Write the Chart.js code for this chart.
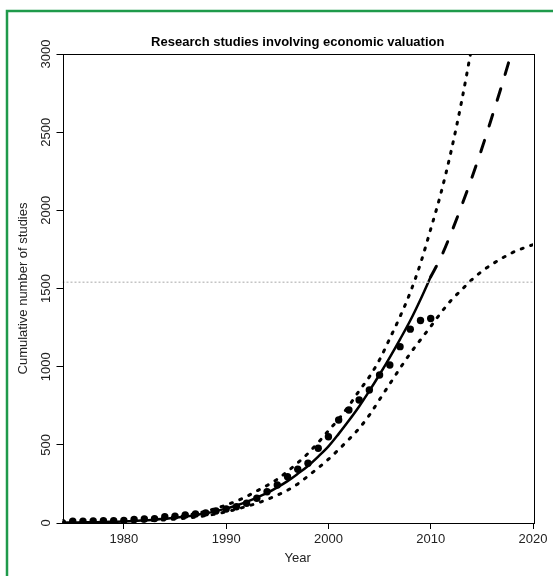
<!DOCTYPE html>
<html><head><meta charset="utf-8">
<script src="https://cdn.jsdelivr.net/npm/chart.js@4.4.0/dist/chart.umd.min.js"></script>
<style>html,body{margin:0;padding:0;background:#fff;}canvas{display:block;}</style>
</head><body>
<canvas id="c" width="553" height="576"></canvas>
<script>
const chartTitle = 'Research studies involving economic valuation';
const xTitle = 'Year';
const yTitle = 'Cumulative number of studies';
const xTickLabels = [1980, 1990, 2000, 2010, 2020];
const yTickLabels = [0, 500, 1000, 1500, 2000, 2500, 3000];
const xMin = 1974, xMax = 2020, yMin = 0, yMax = 3000;
const refLevel = 1540;

// observed cumulative studies
const obsYears = [1974,1975,1976,1977,1978,1979,1980,1981,1982,1983,1984,1985,1986,1987,1988,1989,1990,1991,1992,1993,1994,1995,1996,1997,1998,1999,2000,2001,2002,2003,2004,2005,2006,2007,2008,2009,2010];
const obsValues = [2,12,12,13,14,15,17,22,26,28,40,44,51,58,65,77,90,104,126,158,200,243,296,344,382,478,552,659,723,787,851,947,1011,1128,1240,1295,1308];

// fitted curve (solid, to 2010)
const fitYears = [1974,1975,1976,1977,1978,1979,1980,1981,1982,1983,1984,1985,1986,1987,1988,1989,1990,1991,1992,1993,1994,1995,1996,1997,1998,1999,2000,2001,2002,2003,2004,2005,2006,2007,2008,2009,2010];
const fitValues = [2,3,4,5,6,8,10,13,17,21,27,33,41,50,62,76,92,112,135,162,192,228,268,315,365,425,490,570,655,745,845,950,1060,1175,1295,1430,1575];

// projection (dashed, 2010 onward)
const projYears = [2010,2011,2012,2013,2014,2015,2016,2017,2018];
const projValues = [1575,1700,1855,2025,2205,2395,2600,2810,3030];

// upper bound (dotted)
const upperYears = [1974,1975,1976,1977,1978,1979,1980,1981,1982,1983,1984,1985,1986,1987,1988,1989,1990,1991,1992,1993,1994,1995,1996,1997,1998,1999,2000,2001,2002,2003,2004,2005,2006,2007,2008,2009,2010,2011,2012,2013,2014];
const upperValues = [2,3,4,5,7,9,12,15,19,24,31,39,48,60,75,93,115,140,170,205,240,280,330,385,445,515,590,665,750,845,935,1045,1180,1320,1475,1660,1880,2110,2380,2690,3040];

// lower bound (dotted)
const lowerYears = [1974,1975,1976,1977,1978,1979,1980,1981,1982,1983,1984,1985,1986,1987,1988,1989,1990,1991,1992,1993,1994,1995,1996,1997,1998,1999,2000,2001,2002,2003,2004,2005,2006,2007,2008,2009,2010,2011,2012,2013,2014,2015,2016,2017,2018,2019,2020];
const lowerValues = [2,3,3,4,5,6,8,10,13,16,20,25,31,38,47,58,72,88,106,126,150,178,210,250,300,352,408,470,535,605,690,790,890,990,1085,1172,1257,1345,1425,1490,1555,1610,1655,1695,1730,1757,1780];

const FONT = "'Liberation Sans', Arial, sans-serif";
const pairs = (xs, ys) => xs.map((x, i) => ({x: x, y: ys[i]}));

const framePlugin = {
  id: 'frame',
  afterDraw(chart) {
    const ctx = chart.ctx, a = chart.chartArea;
    const ys = chart.scales.y;
    ctx.save();
    // plot box
    ctx.strokeStyle = '#000'; ctx.lineWidth = 1;
    ctx.strokeRect(Math.round(a.left) + 0.5, Math.round(a.top) + 0.5, Math.round(a.right - a.left), Math.round(a.bottom - a.top));
    // rotated y tick labels
    ctx.fillStyle = '#222';
    ctx.font = '13px ' + FONT;
    ctx.textAlign = 'center'; ctx.textBaseline = 'middle';
    yTickLabels.forEach(v => {
      const y = ys.getPixelForValue(v);
      ctx.save(); ctx.translate(46, y); ctx.rotate(-Math.PI / 2);
      ctx.fillText(String(v), 0, 0); ctx.restore();
    });
    // axis titles
    ctx.fillStyle = '#222';
    ctx.save(); ctx.translate(23, (a.top + a.bottom) / 2); ctx.rotate(-Math.PI / 2);
    ctx.fillText(yTitle, 0, 0); ctx.restore();
    ctx.fillText(xTitle, (a.left + a.right) / 2, 558);
    // green frame
    ctx.strokeStyle = '#1f9a4b'; ctx.lineWidth = 2.5;
    ctx.strokeRect(7, 11, 700, 700);
    ctx.restore();
  }
};

new Chart(document.getElementById('c'), {
  type: 'scatter',
  data: {
    datasets: [
      {data: pairs([xMin, xMax], [refLevel, refLevel]), showLine: true, borderColor: '#c4c4c4', borderWidth: 1.5, borderDash: [2, 2], pointRadius: 0, clip: 0},
      {data: pairs(upperYears, upperValues), showLine: true, borderColor: '#000', borderWidth: 3, borderDash: [2, 8], borderCapStyle: 'round', pointRadius: 0, cubicInterpolationMode: 'monotone', clip: 0},
      {data: pairs(lowerYears, lowerValues), showLine: true, borderColor: '#000', borderWidth: 3, borderDash: [2, 8], borderCapStyle: 'round', pointRadius: 0, cubicInterpolationMode: 'monotone', clip: 0},
      {data: pairs(projYears, projValues), showLine: true, borderColor: '#000', borderWidth: 3, borderDash: [12, 15], borderCapStyle: 'round', pointRadius: 0, cubicInterpolationMode: 'monotone', clip: 0},
      {data: pairs(fitYears, fitValues), showLine: true, borderColor: '#000', borderWidth: 2.5, borderCapStyle: 'round', pointRadius: 0, cubicInterpolationMode: 'monotone', clip: 0},
      {data: pairs(obsYears, obsValues), showLine: false, pointRadius: 3.7, pointBackgroundColor: '#000', pointBorderWidth: 0, borderColor: '#000'}
    ]
  },
  options: {
    responsive: false, animation: false, devicePixelRatio: 1,
    layout: {padding: {left: 0, right: 20, top: 0, bottom: 0}},
    plugins: {
      legend: {display: false}, tooltip: {enabled: false},
      title: {display: true, text: chartTitle, fullSize: false, color: '#000',
        font: {family: FONT, size: 13, weight: 'bold'}, padding: {top: 35, bottom: 3.4}}
    },
    scales: {
      x: {type: 'linear', min: xMin, max: xMax,
        afterBuildTicks: s => { s.ticks = xTickLabels.map(v => ({value: v})); },
        afterFit: s => { s.height = 53; },
        ticks: {font: {family: FONT, size: 13}, color: '#222', padding: 3, maxRotation: 0, autoSkip: false, callback: v => String(v)},
        grid: {display: true, drawOnChartArea: false, drawTicks: true, tickLength: 6, color: '#000', lineWidth: 1},
        border: {display: false}},
      y: {type: 'linear', min: yMin, max: yMax,
        afterBuildTicks: s => { s.ticks = yTickLabels.map(v => ({value: v})); },
        afterFit: s => { s.width = 62.5; },
        ticks: {display: false},
        grid: {display: true, drawOnChartArea: false, drawTicks: true, tickLength: 6, color: '#000', lineWidth: 1},
        border: {display: false}}
    }
  },
  plugins: [framePlugin]
});
</script>
</body></html>
